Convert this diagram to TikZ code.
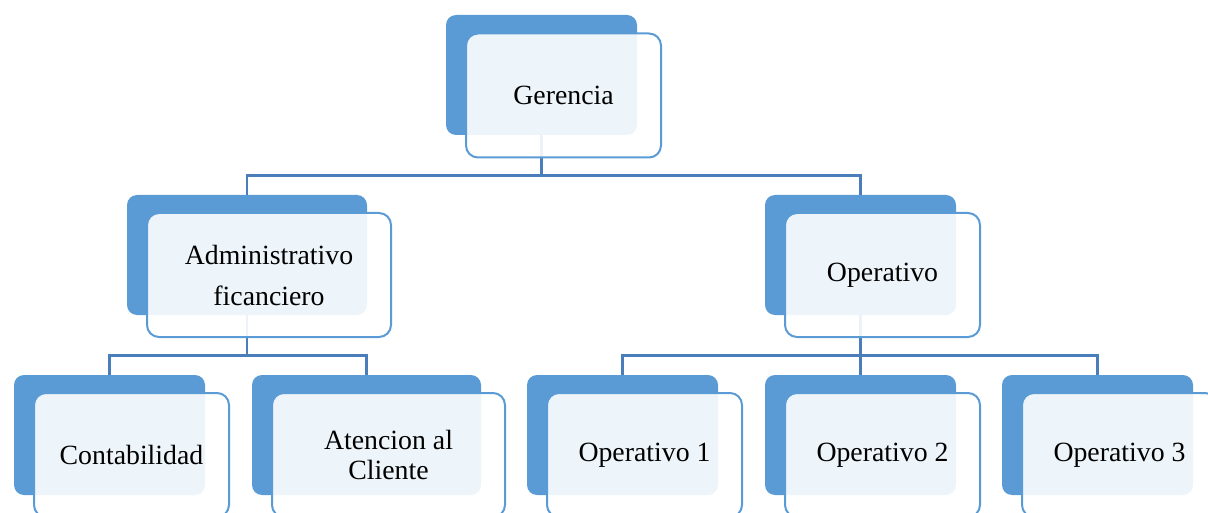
\documentclass[tikz,border=0pt]{standalone}
\usepackage{fontspec}
\setmainfont{Liberation Serif}
\usetikzlibrary{shapes}

\definecolor{boxblue}{RGB}{91,155,213}
\definecolor{linkblue}{RGB}{74,126,187}

\tikzset{
    backbox/.style={fill=boxblue, rounded corners=5pt, minimum height=60pt, inner sep=0pt},
    frontbox/.style={draw=boxblue, line width=1pt, fill=white, fill opacity=0.9, text opacity=1,
        rounded corners=6pt, minimum height=62pt, inner sep=0pt, align=center,
        font=\fontsize{13.9}{17}\selectfont},
    link/.style={draw=linkblue, line width=1.25pt}
}

\begin{document}
\begin{tikzpicture}[x=0.5pt, y=-0.5pt]
    \useasboundingbox (0,0) rectangle (1208,513);

    % back boxes
    \node[backbox, minimum width=95.5pt] (G) at (541.5,75) {};
    \node[backbox, minimum width=120pt] (A) at (247,255) {};
    \node[backbox, minimum width=95.5pt] (O) at (860.5,255) {};
    \node[backbox, minimum width=95.5pt] (C) at (109.5,435) {};
    \node[backbox, minimum width=114.5pt] (AC) at (366.5,435) {};
    \node[backbox, minimum width=95.5pt] (O1) at (622.5,435) {};
    \node[backbox, minimum width=95.5pt] (O2) at (860.5,435) {};
    \node[backbox, minimum width=95.5pt] (O3) at (1097.5,435) {};

    \draw[link] (G.south) -- ++(0,40) -| (A.north);
    \draw[link] (G.south) -- ++(0,40) -| (O.north);
    \draw[link] (A.south) -- ++(0,40) -| (C.north);
    \draw[link] (A.south) -- ++(0,40) -| (AC.north);
    \draw[link] (O.south) -- ++(0,40) -| (O1.north);
    \draw[link] (O.south) -- ++(0,40) -| (O2.north);
    \draw[link] (O.south) -- ++(0,40) -| (O3.north);

    % front boxes
    \node[frontbox, minimum width=97.5pt] (Gf) at (563.5,95.5) {Gerencia};
    \node[frontbox, minimum width=122pt, font=\fontsize{13.9}{20.5}\selectfont] (Af) at (269,275) {Administrativo\\ficanciero};
    \node[frontbox, minimum width=97.5pt] (Of) at (882.5,275) {Operativo};
    \node[frontbox, minimum width=97.5pt] (Cf) at (131.5,455) {Contabilidad};
    \node[frontbox, minimum width=116.5pt, font=\fontsize{13.9}{15}\selectfont] (ACf) at (388.5,455) {Atencion al\\Cliente};
    \node[frontbox, minimum width=97.5pt] (O1f) at (644.5,455) {Operativo 1};
    \node[frontbox, minimum width=97.5pt] (O2f) at (882.5,455) {Operativo 2};
    \node[frontbox, minimum width=97.5pt] (O3f) at (1119.5,455) {Operativo 3};
\end{tikzpicture}
\end{document}
